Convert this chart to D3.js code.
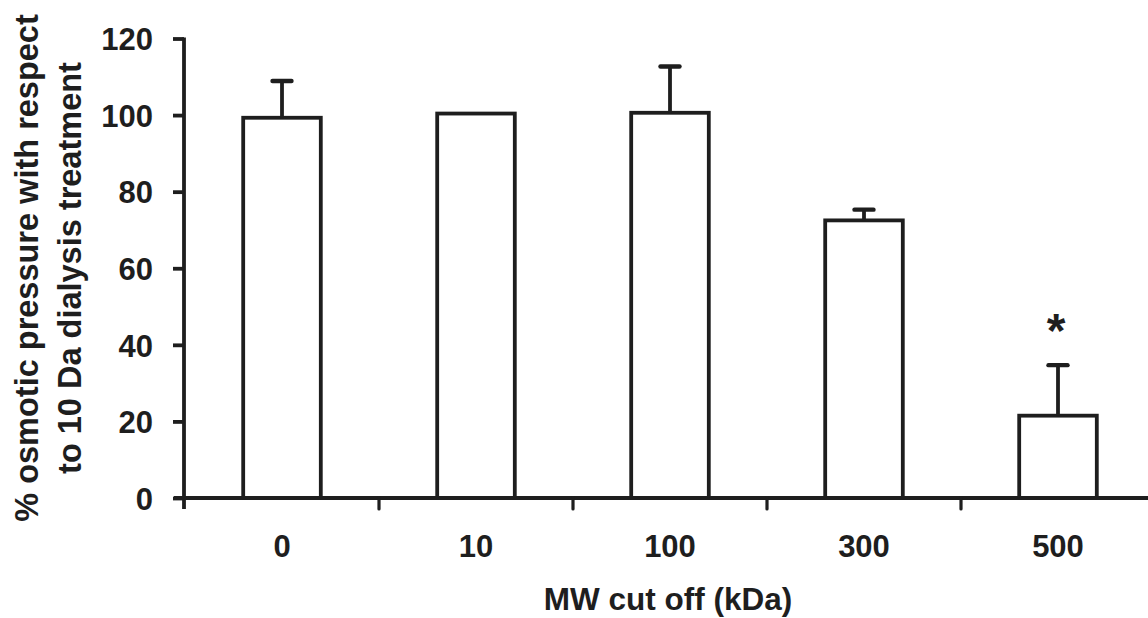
<!DOCTYPE html>
<html>
<head>
<meta charset="utf-8">
<script src="https://cdn.jsdelivr.net/npm/d3@7"></script>
<style>
  html, body { margin: 0; padding: 0; background: #fff; }
  svg { display: block; }
  text { font-family: "Liberation Sans", Arial, sans-serif; font-weight: bold; fill: #1e1e1e; }
</style>
</head>
<body>
<svg id="chart" width="1148" height="618"></svg>
<script>
// MW cut-off categories (kDa)
const categories = ["0", "10", "100", "300", "500"];
// Mean % osmotic pressure relative to 10 Da dialysis
const means = [99.3, 100.4, 100.6, 72.5, 21.5];
// Upper error (SD)
const errors = [9.6, 0, 12.1, 2.8, 13.2];
// Significance markers
const marks = ["", "", "", "", "*"];
const yTicks = [0, 20, 40, 60, 80, 100, 120];

const ink = "#1e1e1e";
const sw = 3.8;

const svg = d3.select("#chart");

const x = d3.scaleBand()
  .domain(categories)
  .range([184, 1154])
  .paddingInner(0.6)
  .paddingOuter(0.3);

const y = d3.scaleLinear().domain([0, 120]).range([498, 38.5]);

// Bars
svg.append("g").selectAll("rect")
  .data(categories)
  .join("rect")
  .attr("x", d => x(d) + 1)
  .attr("y", (d, i) => y(means[i]))
  .attr("width", x.bandwidth())
  .attr("height", (d, i) => y(0) - y(means[i]))
  .attr("fill", "#fff")
  .attr("stroke", ink)
  .attr("stroke-width", sw);

// Error bars (upper only)
const eb = svg.append("g");
categories.forEach((c, i) => {
  if (errors[i] <= 0) return;
  const cx = x(c) + 1 + x.bandwidth() / 2;
  eb.append("line")
    .attr("x1", cx).attr("x2", cx)
    .attr("y1", y(means[i])).attr("y2", y(means[i] + errors[i]))
    .attr("stroke", ink).attr("stroke-width", sw);
  eb.append("line")
    .attr("x1", cx - 9.5).attr("x2", cx + 9.5)
    .attr("y1", y(means[i] + errors[i])).attr("y2", y(means[i] + errors[i]))
    .attr("stroke", ink).attr("stroke-width", sw + 0.6)
    .attr("stroke-linecap", "round");
});

// Significance asterisks
svg.append("g").selectAll("text")
  .data(categories)
  .join("text")
  .attr("x", d => x(d) + x.bandwidth() / 2 - 1)
  .attr("y", (d, i) => y(means[i] + errors[i]) - 18)
  .attr("text-anchor", "middle")
  .attr("font-size", 48)
  .text((d, i) => marks[i]);

// Y axis
const yAxis = d3.axisLeft(y).tickValues(yTicks).tickSize(11).tickPadding(20);
const gy = svg.append("g").attr("transform", "translate(184,0)").call(yAxis);
gy.select(".domain").remove();
gy.selectAll(".tick line").attr("stroke", ink).attr("stroke-width", sw);
gy.selectAll(".tick text")
  .attr("font-size", 31)
  .attr("font-family", "'Liberation Sans', Arial, sans-serif")
  .attr("font-weight", "bold")
  .attr("fill", ink)
  .attr("dy", "0.36em");
svg.append("line")
  .attr("x1", 184).attr("x2", 184)
  .attr("y1", y(120) - 1).attr("y2", y(0) + 11)
  .attr("stroke", ink).attr("stroke-width", sw);

// X axis line and separators between categories
const bounds = d3.range(1, categories.length).map(i => x.range()[0] + i * x.step());
svg.append("line")
  .attr("x1", 174).attr("x2", 1148)
  .attr("y1", y(0)).attr("y2", y(0))
  .attr("stroke", ink).attr("stroke-width", sw);
svg.append("g").selectAll("line")
  .data(bounds)
  .join("line")
  .attr("x1", d => d + 1).attr("x2", d => d + 1)
  .attr("y1", y(0)).attr("y2", y(0) + 11)
  .attr("stroke", ink).attr("stroke-width", sw - 0.6)
  .attr("stroke-linecap", "round");

// Category labels
svg.append("g").selectAll("text")
  .data(categories)
  .join("text")
  .attr("x", d => x(d) + 1 + x.bandwidth() / 2)
  .attr("y", 557)
  .attr("text-anchor", "middle")
  .attr("font-size", 31)
  .text(d => d);

// Axis titles
svg.append("text")
  .attr("x", 668).attr("y", 610)
  .attr("text-anchor", "middle")
  .attr("font-size", 31.5)
  .text("MW cut off (kDa)");

const yt = svg.append("text")
  .attr("transform", "translate(0,268) rotate(-90)")
  .attr("text-anchor", "middle")
  .attr("font-size", 32.5);
yt.append("tspan").attr("x", 0).attr("y", 38).text("% osmotic pressure with respect");
yt.append("tspan").attr("x", 0).attr("y", 81).text("to 10 Da dialysis treatment");
</script>
</body>
</html>
